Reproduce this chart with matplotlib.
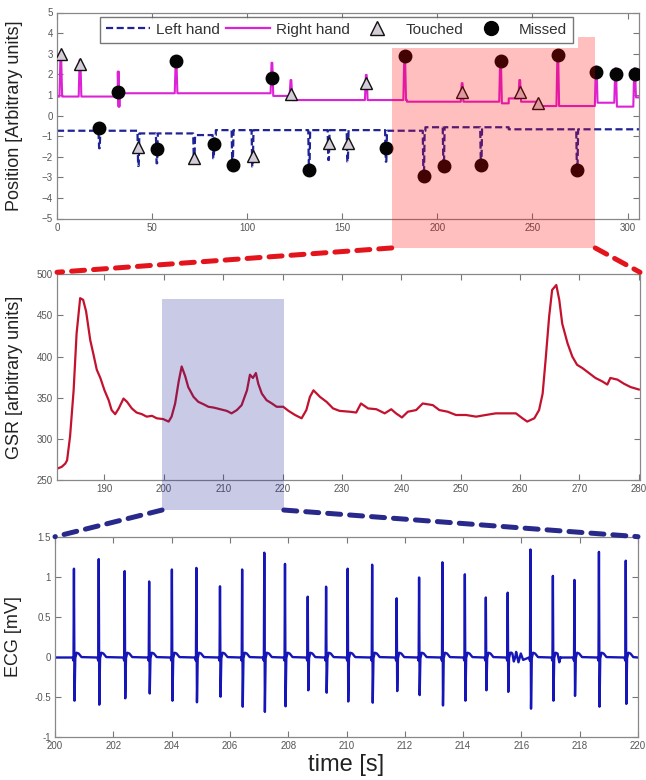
import matplotlib
matplotlib.use('Agg')
import matplotlib.pyplot as plt
import numpy as np
from matplotlib.patches import Polygon, Rectangle, ConnectionPatch
from matplotlib.lines import Line2D

plt.rcParams['font.family'] = ['Liberation Sans', 'DejaVu Sans']

# ------------------------- data: top panel (hand positions) -------------------------
right_level_t = [0, 33, 113, 123.5, 184, 233, 237.5, 243.7, 254, 283.5, 293.7, 303.5]
right_level_y = [0.92, 1.08, 0.95, 0.75, 0.67, 0.59, 0.83, 0.67, 0.46, 0.62, 0.43, 0.88]
right_event_t = [2.0, 12.1, 32.2, 32.6, 62.6, 113.0, 123.0, 162.6, 182.8, 213.0,
                 233.2, 243.3, 263.3, 283.5, 293.7, 303.7]
right_event_v = [2.78, 2.70, 2.13, 0.43, 2.66, 2.56, 1.72, 1.97, 2.87, 1.57,
                 2.66, 1.72, 2.92, 2.37, 2.29, 2.29]

left_level_t = [0, 42.8, 71.8, 83.5, 173.5, 193.7, 237.5]
left_level_y = [-0.74, -0.87, -0.95, -0.71, -0.74, -0.57, -0.67]
left_event_t = [22.3, 42.8, 52.5, 72.1, 82.3, 92.3, 102.8, 132.6, 142.8, 152.8,
                173.0, 192.8, 203.3, 223.0, 273.5]
left_event_v = [-1.59, -2.45, -2.32, -2.24, -2.08, -2.40, -2.48, -2.65, -2.16, -2.24,
                -2.24, -2.96, -2.45, -2.40, -2.65]

touched_x = [1.9, 12.1, 123.0, 162.6, 213.0, 243.3, 253.0,
             42.8, 72.1, 102.8, 142.8, 152.8]
touched_y = [3.00, 2.52, 1.04, 1.57, 1.13, 1.13, 0.62,
             -1.55, -2.08, -1.99, -1.32, -1.35]
missed_x = [32.3, 62.6, 113.0, 182.8, 233.2, 263.3, 283.5, 293.7, 303.7,
            22.3, 52.5, 82.3, 92.3, 132.6, 173.0, 192.8, 203.3, 223.0, 273.5]
missed_y = [1.16, 2.66, 1.80, 2.87, 2.66, 2.92, 2.10, 2.00, 2.00,
            -0.59, -1.64, -1.40, -2.40, -2.65, -1.59, -2.96, -2.45, -2.40, -2.65]

# ------------------------- data: GSR -------------------------
gsr_t = [182.1, 182.8, 183.4, 183.7, 184.2, 184.8, 185.3, 185.9, 186.4, 186.9,
         187.6, 188.1, 188.7, 189.3, 190.0, 190.7, 191.2, 191.8, 192.4, 193.2,
         193.8, 194.6, 195.4, 196.3, 197.1, 198.0, 198.8, 199.9, 200.8, 201.3,
         201.9, 202.5, 203.0, 203.6, 204.1, 205.0, 205.8, 206.7, 207.5, 208.4,
         209.5, 210.6, 211.4, 212.3, 213.1, 214.0, 214.5, 215.0, 215.5, 215.9,
         216.5, 217.3, 218.2, 219.0, 220.1, 221.0, 222.1, 223.2, 224.0, 224.6,
         225.2, 226.3, 227.4, 228.5, 229.6, 231.3, 232.4, 233.2, 234.4, 235.8,
         237.2, 238.3, 239.1, 240.1, 241.1, 242.5, 243.6, 245.3, 246.4, 247.8,
         249.2, 250.9, 252.6, 254.2, 255.9, 257.6, 259.3, 260.4, 261.2, 262.4,
         263.2, 263.8, 264.3, 264.9, 265.4, 266.1, 266.6, 267.1, 268.0, 268.8,
         269.6, 270.5, 271.6, 272.7, 273.8, 274.7, 275.2, 276.4, 277.5, 278.6, 280.0]
gsr_v = [264, 266, 270, 274, 303, 359, 428, 471, 469, 455,
         420, 404, 384, 374, 359, 347, 335, 330, 337, 349,
         345, 337, 332, 330, 327, 328, 325, 324, 321, 327,
         343, 370, 388, 376, 363, 351, 345, 342, 339, 338,
         336, 334, 331, 335, 341, 359, 378, 374, 380, 367,
         355, 347, 343, 339, 339, 334, 329, 325, 335, 351,
         359, 351, 345, 337, 334, 333, 332, 343, 337, 336,
         331, 336, 331, 326, 333, 335, 343, 341, 335, 333,
         329, 329, 327, 329, 331, 331, 331, 325, 321, 325,
         335, 355, 396, 449, 481, 487, 469, 440, 416, 400,
         390, 386, 380, 374, 370, 366, 374, 372, 367, 363, 360]

# ------------------------- data: ECG -------------------------
ecg_beat_t = [200.65, 201.50, 202.39, 203.23, 204.01, 204.85, 205.66, 206.42, 207.18,
              207.89, 208.67, 209.30, 210.04, 210.88, 211.72, 212.49, 213.29, 214.06,
              214.78, 215.53, 216.31, 217.08, 217.82, 218.66, 219.58]
ecg_r = [1.10, 1.22, 1.07, 0.94, 1.09, 1.11, 0.88, 1.09, 1.30,
         1.16, 0.75, 0.875, 1.10, 1.15, 0.73, 0.99, 1.18, 1.03,
         0.74, 0.80, 1.34, 1.01, 0.96, 1.31, 1.20]
ecg_s = [-0.55, -0.60, -0.52, -0.46, -0.55, -0.57, -0.50, -0.625, -0.69,
         -0.62, -0.42, -0.45, -0.56, -0.575, -0.43, -0.48, -0.61, -0.55,
         -0.42, -0.44, -0.65, -0.55, -0.49, -0.625, -0.59]
artifact_t = [215.66, 215.74, 215.82, 215.90, 215.98, 216.06, 217.30, 217.36]
artifact_v = [0.05, -0.06, 0.06, -0.07, 0.04, -0.04, -0.07, -0.01]

# ------------------------- helpers -------------------------
def level_at(t, lt, ly):
    i = int(np.searchsorted(lt, t, side='right')) - 1
    return ly[max(i, 0)]

def build_trace(lt, ly, ev_t, ev_v, w, tmax):
    pts = []
    for i in range(len(lt)):
        if any(abs(lt[i] - t) <= w for t in ev_t):
            continue  # step hidden inside an event
        if i > 0:
            pts.append((lt[i], ly[i - 1]))
        pts.append((lt[i], ly[i]))
    for t, v in zip(ev_t, ev_v):
        pre = level_at(t - w, lt, ly)
        post = level_at(t + w, lt, ly)
        pts += [(t - w, pre), (t - w * 0.3, v), (t + w * 0.3, v), (t + w, post)]
    pts.append((tmax, ly[-1]))
    pts.sort(key=lambda p: p[0])
    x, y = zip(*pts)
    return list(x), list(y)

def build_ecg(bt, r, s, at, av, t0, t1):
    pts = [(t0, -0.01)]
    for t, rr, ss in zip(bt, r, s):
        pts += [(t - 0.05, -0.01), (t - 0.015, -0.05), (t, rr), (t + 0.02, ss),
                (t + 0.045, -0.02), (t + 0.09, 0.05), (t + 0.16, 0.04), (t + 0.26, -0.005)]
    pts += list(zip(at, av))
    pts.append((t1, -0.01))
    pts.sort(key=lambda p: p[0])
    x, y = zip(*pts)
    return list(x), list(y)

def style_axes(ax):
    ax.tick_params(direction='in', top=True, right=True, labelsize=7,
                   labelcolor='#555555', color='#777777', length=4, width=0.8, pad=3)
    for sp in ax.spines.values():
        sp.set_color('#888888')
        sp.set_linewidth(0.9)

# ------------------------- figure -------------------------
W, H = 646, 780
fig = plt.figure(figsize=(W / 100, H / 100), dpi=100)

ax1 = fig.add_axes([57 / W, 1 - 218.5 / H, 582 / W, 206 / H])
ax2 = fig.add_axes([57 / W, 1 - 480 / H, 583 / W, 205.7 / H])
ax3 = fig.add_axes([55 / W, 1 - 736.7 / H, 583 / W, 200 / H])

MAGENTA = '#dd22d6'
NAVY = '#1f2396'
GSR_RED = '#c4122e'
ECG_BLUE = '#1616b8'

# --- top panel ---
rx, ry = build_trace(right_level_t, right_level_y, right_event_t, right_event_v, 0.7, 306)
lx, ly = build_trace(left_level_t, left_level_y, left_event_t, left_event_v, 0.5, 306)
ax1.plot(lx, ly, color=NAVY, lw=1.6, ls=(0, (3.2, 1.6)), zorder=2)
ax1.plot(rx, ry, color=MAGENTA, lw=1.5, zorder=2)
ax1.plot(touched_x, touched_y, ls='none', marker='^', ms=9, mfc='#d4ccd6',
         mec='#111111', mew=1.0, zorder=3)
ax1.plot(missed_x, missed_y, ls='none', marker='o', ms=9, mfc='#050505',
         mec='#050505', zorder=3)
ax1.set_xlim(0, 306)
ax1.set_ylim(-5, 5)
ax1.set_xticks(range(0, 301, 50))
ax1.set_yticks(range(-5, 6))
ax1.set_ylabel('Position [Arbitrary units]', fontsize=13, color='#222222')
ax1.yaxis.set_label_coords(-0.058, 0.5)
style_axes(ax1)

# zoom window highlight (pink overlay)
zx0, zx1 = 176, 283
pink = Polygon([(zx0, -6.43), (zx1, -6.43), (zx1, 3.81), (274, 3.81), (274, 3.28), (zx0, 3.28)],
               closed=True, facecolor='#ff0000', alpha=0.25, edgecolor='none',
               clip_on=False, zorder=4)
ax1.add_patch(pink)

handles = [Line2D([], [], color=NAVY, lw=1.6, ls=(0, (3.2, 1.6))),
           Line2D([], [], color=MAGENTA, lw=1.6),
           Line2D([], [], ls='none', marker='^', ms=10, mfc='#d4ccd6', mec='#111111', mew=1.0),
           Line2D([], [], ls='none', marker='o', ms=10, mfc='#050505', mec='#050505')]
leg = ax1.legend(handles, ['Left hand', 'Right hand', 'Touched', 'Missed'],
                 loc='upper left', bbox_to_anchor=(0.074, 0.978), ncol=4,
                 fontsize=11, frameon=True, fancybox=False, edgecolor='#555555',
                 handlelength=2.9, columnspacing=0.35, handletextpad=0.4,
                 borderpad=0.38, borderaxespad=0.0)
leg.get_frame().set_linewidth(1.0)
for t in leg.get_texts():
    t.set_color('#333333')
leg.set_zorder(6)

# --- GSR panel ---
ax2.plot(gsr_t, gsr_v, color=GSR_RED, lw=1.6, zorder=2)
ax2.set_xlim(182, 280.2)
ax2.set_ylim(250, 500)
ax2.set_xticks(range(190, 281, 10))
ax2.set_yticks(range(250, 501, 50))
ax2.set_ylabel('GSR [arbitrary units]', fontsize=13, color='#222222')
ax2.yaxis.set_label_coords(-0.058, 0.5)
style_axes(ax2)

bx0, bx1 = 199.7, 220.2
blue = Rectangle((bx0, 213.5), bx1 - bx0, 469.6 - 213.5, facecolor=NAVY, alpha=0.24,
                 edgecolor='none', clip_on=False, zorder=4)
ax2.add_patch(blue)

# --- ECG panel ---
ex, ey = build_ecg(ecg_beat_t, ecg_r, ecg_s, artifact_t, artifact_v, 200, 220)
ax3.plot(ex, ey, color=ECG_BLUE, lw=1.7, zorder=2)
ax3.set_xlim(200, 220)
ax3.set_ylim(-1, 1.5)
ax3.set_xticks(range(200, 221, 2))
ax3.set_yticks([-1, -0.5, 0, 0.5, 1, 1.5])
ax3.set_yticklabels(['-1', '-0.5', '0', '0.5', '1', '1.5'])
ax3.set_ylabel('ECG [mV]', fontsize=13, color='#222222')
ax3.yaxis.set_label_coords(-0.057, 0.5)
ax3.set_xlabel('time [s]', fontsize=17, color='#222222', labelpad=2)
style_axes(ax3)

# --- connector lines ---
for xa, xb in [(zx0, 0), (zx1, 1)]:
    cp = ConnectionPatch(xyA=(xa, -6.43), coordsA=ax1.transData,
                         xyB=(xb, 1.01), coordsB=ax2.transAxes,
                         color='#e3141c', lw=3.6, ls=(0, (2.6, 1.8)), zorder=7)
    fig.add_artist(cp)
for xa, xb in [(bx0, 0), (bx1, 1)]:
    cp = ConnectionPatch(xyA=(xa, 213.5), coordsA=ax2.transData,
                         xyB=(xb, 1.0), coordsB=ax3.transAxes,
                         color='#28298a', lw=3.6, ls=(0, (2.6, 1.8)), zorder=7)
    fig.add_artist(cp)

fig.savefig('out.png', dpi=100)
